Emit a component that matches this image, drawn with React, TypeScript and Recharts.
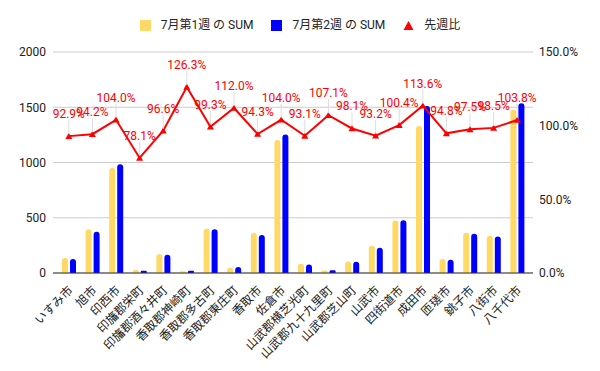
import React from "react";
import {
  ComposedChart,
  Bar,
  Line,
  XAxis,
  YAxis,
  CartesianGrid,
  LabelList,
} from "recharts";

const categories = [
  "いすみ市",
  "旭市",
  "印西市",
  "印旛郡栄町",
  "印旛郡酒々井町",
  "香取郡神崎町",
  "香取郡多古町",
  "香取郡東庄町",
  "香取市",
  "佐倉市",
  "山武郡横芝光町",
  "山武郡九十九里町",
  "山武郡芝山町",
  "山武市",
  "四街道市",
  "成田市",
  "匝瑳市",
  "銚子市",
  "八街市",
  "八千代市",
];

const week1 = [135, 397, 951, 28, 172, 16, 400, 48, 361, 1204, 83, 23, 104, 246, 474, 1330, 127, 364, 336, 1480];
const week2 = [126, 373, 984, 21, 165, 20, 397, 55, 344, 1253, 76, 26, 102, 229, 477, 1511, 120, 355, 330, 1536];
const ratio = [92.9, 94.2, 104.0, 78.1, 96.6, 126.3, 99.3, 112.0, 94.3, 104.0, 93.1, 107.1, 98.1, 93.2, 100.4, 113.6, 94.8, 97.5, 98.5, 103.8];

const leftTicks = [0, 500, 1000, 1500, 2000];
const rightTicks = [0, 50, 100, 150];

const seriesNames = ["7月第1週 の SUM", "7月第2週 の SUM", "先週比"];

const data = categories.map((name, i) => ({
  name,
  w1: week1[i],
  w2: week2[i],
  r: ratio[i],
}));

const FONT = "Roboto, 'Noto Sans CJK JP', sans-serif";
const YELLOW = "#ffd966";
const BLUE = "#0000ff";
const RED = "#ff0000";

const XTick = (props: any) => {
  const { x, y, payload } = props;
  return (
    <text
      transform={`translate(${x + 5},${y + 10}) rotate(-45)`}
      textAnchor="end"
      fontSize={12}
      fill="#222"
      fontFamily={FONT}
    >
      {payload.value}
    </text>
  );
};

const TriangleDot = (props: any) => {
  const { cx, cy, index } = props;
  if (cx == null || cy == null) return null;
  const s = 3.5;
  return (
    <path
      key={`dot-${index}`}
      d={`M${cx},${cy - s} L${cx + s},${cy + s * 0.8} L${cx - s},${cy + s * 0.8} Z`}
      fill={RED}
    />
  );
};

const RatioLabel = (props: any) => {
  const { x, y, value, index } = props;
  return (
    <g key={`lbl-${index}`}>
      <line x1={x} x2={x} y1={y - 2} y2={y - 16} stroke="#dddddd" strokeWidth={1} />
      <text
        x={x}
        y={y - 18}
        textAnchor="middle"
        fontSize={12}
        fill={RED}
        fontFamily={FONT}
      >
        {Number(value).toFixed(1) + "%"}
      </text>
    </g>
  );
};

const LegendBox = () => (
  <div
    style={{
      position: "absolute",
      left: 0,
      top: 17,
      width: 600,
      display: "flex",
      justifyContent: "center",
      alignItems: "center",
      fontFamily: FONT,
      fontSize: 12,
      color: "#222",
      lineHeight: "16px",
    }}
  >
    <div style={{ display: "flex", alignItems: "center", marginRight: 18 }}>
      <div style={{ width: 11, height: 11, background: YELLOW, marginRight: 10 }} />
      <span>{seriesNames[0]}</span>
    </div>
    <div style={{ display: "flex", alignItems: "center", marginRight: 18 }}>
      <div style={{ width: 11, height: 11, background: BLUE, marginRight: 10 }} />
      <span>{seriesNames[1]}</span>
    </div>
    <div style={{ display: "flex", alignItems: "center" }}>
      <svg width={11} height={11} style={{ marginRight: 10 }}>
        <path d="M5.5,1 L10.5,10 L0.5,10 Z" fill={RED} />
      </svg>
      <span>{seriesNames[2]}</span>
    </div>
  </div>
);

export default function App() {
  return (
    <div style={{ position: "absolute", left: 0, top: 0, width: 600, height: 371, background: "#fff" }}>
      <LegendBox />
      <ComposedChart
        width={600}
        height={371}
        data={data}
        margin={{ top: 52, right: 0, left: 0, bottom: 0 }}
        barSize={6}
        barGap={2}
      >
        <CartesianGrid vertical={false} stroke="#cccccc" yAxisId="left" />
        <XAxis
          dataKey="name"
          interval={0}
          height={98}
          tick={<XTick />}
          tickLine={false}
          axisLine={{ stroke: "#333333" }}
          padding={{ left: 4, right: 4 }}
        />
        <YAxis
          yAxisId="left"
          orientation="left"
          width={53}
          domain={[0, 2000]}
          ticks={leftTicks}
          tickLine={false}
          tickSize={0}
          tickMargin={7}
          axisLine={false}
          tick={{ fontSize: 12, fill: "#222", fontFamily: FONT }}
        />
        <YAxis
          yAxisId="right"
          orientation="right"
          width={67}
          domain={[0, 150]}
          ticks={rightTicks}
          tickLine={false}
          tickSize={0}
          tickMargin={6}
          axisLine={false}
          tickFormatter={(v: number) => v.toFixed(1) + "%"}
          tick={{ fontSize: 12, fill: "#222", fontFamily: FONT, textAnchor: "start" }}
        />
        <Bar
          yAxisId="left"
          dataKey="w1"
          name={seriesNames[0]}
          fill={YELLOW}
          radius={[3, 3, 0, 0]}
          isAnimationActive={false}
        />
        <Bar
          yAxisId="left"
          dataKey="w2"
          name={seriesNames[1]}
          fill={BLUE}
          radius={[3, 3, 0, 0]}
          isAnimationActive={false}
        />
        <Line
          yAxisId="right"
          dataKey="r"
          name={seriesNames[2]}
          stroke={RED}
          strokeWidth={2}
          dot={<TriangleDot />}
          activeDot={false}
          isAnimationActive={false}
        >
          <LabelList dataKey="r" content={<RatioLabel />} />
        </Line>
      </ComposedChart>
    </div>
  );
}
